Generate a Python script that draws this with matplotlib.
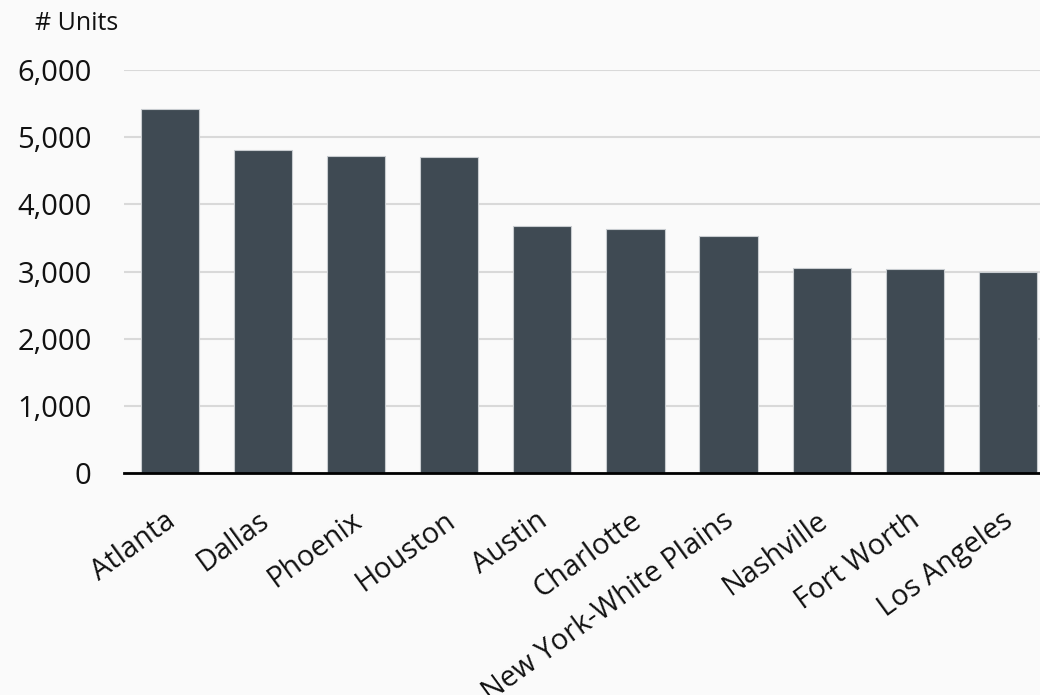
import matplotlib.pyplot as plt
import matplotlib.transforms as mtransforms
import numpy as np

cities = ['Atlanta', 'Dallas', 'Phoenix', 'Houston', 'Austin', 'Charlotte',
          'New York-White Plains', 'Nashville', 'Fort Worth', 'Los Angeles']
units = [5420, 4810, 4720, 4705, 3677, 3633, 3528, 3052, 3037, 2995]
y_ticks = [0, 1000, 2000, 3000, 4000, 5000, 6000]

plt.rcParams['font.family'] = ['Open Sans', 'DejaVu Sans']

fig = plt.figure(figsize=(10.4, 6.95), dpi=100, facecolor='#fafafa')
ax = fig.add_axes([0.1188, 0.3194, 0.895, 0.5799])
ax.set_facecolor('#fafafa')

x = np.arange(len(cities))
ax.bar(x, units, width=0.625, color='#3f4a53', edgecolor='#c8ccd0', linewidth=0.8, zorder=3)

ax.set_xlim(-0.5, len(cities) - 0.5)
ax.set_ylim(0, 6000)
ax.set_yticks(y_ticks)
ax.set_yticklabels([f'{v:,}' for v in y_ticks], fontsize=21, color='#111111')
ax.tick_params(axis='y', length=0, pad=23)
ax.grid(axis='y', color='#d9d9d9', linewidth=1.5, zorder=0)

ax.set_xticks(x)
ax.set_xticklabels(cities, rotation=36, ha='right', rotation_mode='anchor', fontsize=20.8, color='#111111')
ax.tick_params(axis='x', length=0, pad=24)
# nudge the rotated labels a little to the left
shift = mtransforms.ScaledTranslation(-0.06, 0, fig.dpi_scale_trans)
for lbl in ax.get_xticklabels():
    lbl.set_transform(lbl.get_transform() + shift)

for side in ['top', 'right', 'left']:
    ax.spines[side].set_visible(False)
ax.spines['bottom'].set_color('black')
ax.spines['bottom'].set_linewidth(2)
ax.spines['bottom'].set_zorder(4)

fig.text(0.034, 0.966, '# Units', fontsize=18, color='#111111', ha='left', va='center')

fig.savefig('out.png', dpi=100, facecolor=fig.get_facecolor())
